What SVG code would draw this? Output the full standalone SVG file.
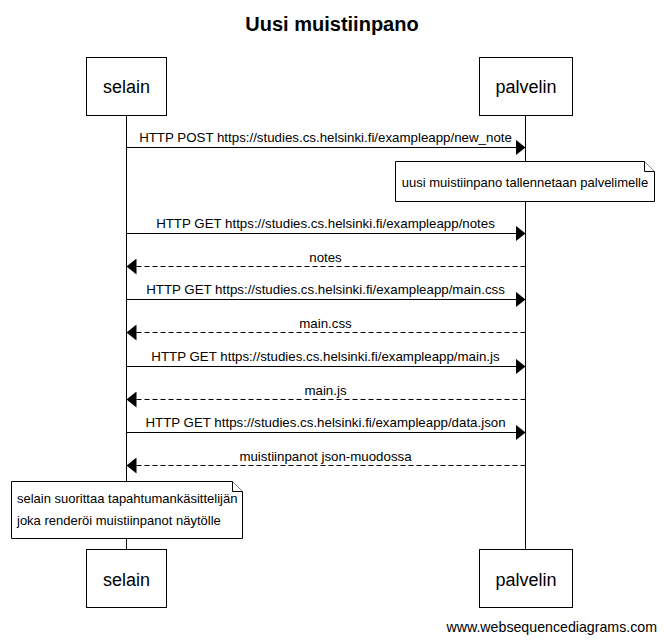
<svg xmlns="http://www.w3.org/2000/svg" width="664" height="643" viewBox="0 0 664 643">
<style>
text{font-family:"Liberation Sans",Arial,sans-serif;fill:#000}
.title{font-size:20px;font-weight:bold}
.actor{font-size:18px}
.msg{font-size:13.3px}
.ntxt{font-size:13px}
.wm{font-size:14.2px}
.box{fill:#fff;stroke:#000;stroke-width:1}
.life{stroke:#000;stroke-width:1}
.call{stroke:#000;stroke-width:1;fill:none}
.ret{stroke:#000;stroke-width:1;fill:none;stroke-dasharray:5,3}
.note{fill:#fff;stroke:#000;stroke-width:1}
</style>
<defs>
<marker id="ah" markerUnits="userSpaceOnUse" markerWidth="12" markerHeight="16" refX="10" refY="8" orient="auto">
<path d="M0,0 L10,8 L0,16 Z" fill="#000"/>
</marker>
</defs>
<rect width="664" height="643" fill="#fff"/>
<text class="title" x="332" y="31" text-anchor="middle">Uusi muistiinpano</text>
<g id="lifelines">
<line class="life" x1="126.5" y1="115" x2="126.5" y2="550"/>
<line class="life" x1="525.5" y1="115" x2="525.5" y2="550"/>
</g>
<g id="selain-top"><rect class="box" x="86.5" y="57.5" width="80" height="58"/><text class="actor" x="126.5" y="93" text-anchor="middle">selain</text></g>
<g id="palvelin-top"><rect class="box" x="479.5" y="57.5" width="93" height="58"/><text class="actor" x="526" y="93" text-anchor="middle">palvelin</text></g>
<g id="selain-bottom"><rect class="box" x="86.5" y="549.5" width="80" height="58"/><text class="actor" x="126.5" y="586" text-anchor="middle">selain</text></g>
<g id="palvelin-bottom"><rect class="box" x="479.5" y="549.5" width="93" height="58"/><text class="actor" x="526" y="586" text-anchor="middle">palvelin</text></g>
<g id="connectors">
<line class="call" x1="126.5" y1="147.5" x2="525.5" y2="147.5" marker-end="url(#ah)"/>
<text class="msg" x="325.5" y="142" text-anchor="middle">HTTP POST https://studies.cs.helsinki.fi/exampleapp/new_note</text>
<line class="call" x1="126.5" y1="233.5" x2="525.5" y2="233.5" marker-end="url(#ah)"/>
<text class="msg" x="325.5" y="228" text-anchor="middle">HTTP GET https://studies.cs.helsinki.fi/exampleapp/notes</text>
<line class="ret" x1="525.5" y1="266.5" x2="126.5" y2="266.5" marker-end="url(#ah)"/>
<text class="msg" x="325.5" y="262" text-anchor="middle">notes</text>
<line class="call" x1="126.5" y1="299.5" x2="525.5" y2="299.5" marker-end="url(#ah)"/>
<text class="msg" x="325.5" y="294" text-anchor="middle">HTTP GET https://studies.cs.helsinki.fi/exampleapp/main.css</text>
<line class="ret" x1="525.5" y1="332.5" x2="126.5" y2="332.5" marker-end="url(#ah)"/>
<text class="msg" x="325.5" y="328" text-anchor="middle">main.css</text>
<line class="call" x1="126.5" y1="366.5" x2="525.5" y2="366.5" marker-end="url(#ah)"/>
<text class="msg" x="325.5" y="361" text-anchor="middle">HTTP GET https://studies.cs.helsinki.fi/exampleapp/main.js</text>
<line class="ret" x1="525.5" y1="399.5" x2="126.5" y2="399.5" marker-end="url(#ah)"/>
<text class="msg" x="325.5" y="395" text-anchor="middle">main.js</text>
<line class="call" x1="126.5" y1="432.5" x2="525.5" y2="432.5" marker-end="url(#ah)"/>
<text class="msg" x="325.5" y="427" text-anchor="middle">HTTP GET https://studies.cs.helsinki.fi/exampleapp/data.json</text>
<line class="ret" x1="525.5" y1="465.5" x2="126.5" y2="465.5" marker-end="url(#ah)"/>
<text class="msg" x="325.5" y="461" text-anchor="middle">muistiinpanot json-muodossa</text>
</g>
<g id="note-server">
<path class="note" d="M395.5,161.5 H644.5 L654.5,171.5 V201.5 H395.5 Z"/>
<path class="note" d="M644.5,161.5 V171.5 H654.5" fill="none"/>
<text class="ntxt" x="525" y="187" text-anchor="middle">uusi muistiinpano tallennetaan palvelimelle</text>
</g>
<g id="note-browser">
<path class="note" d="M11.5,481.5 H232.5 L242.5,491.5 V538.5 H11.5 Z"/>
<path class="note" d="M232.5,481.5 V491.5 H242.5" fill="none"/>
<text class="ntxt" x="17" y="503">selain suorittaa tapahtumankäsittelijän</text>
<text class="ntxt" x="17" y="525">joka renderöi muistiinpanot näytölle</text>
</g>
<text class="wm" x="657" y="632" text-anchor="end">www.websequencediagrams.com</text>
</svg>
